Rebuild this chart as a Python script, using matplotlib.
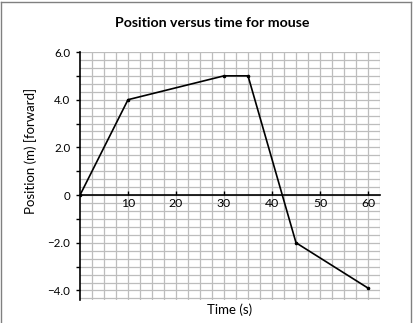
import matplotlib
matplotlib.use("Agg")
import matplotlib.pyplot as plt
from matplotlib.lines import Line2D
import numpy as np

# data
time_s = [0, 10, 30, 35, 45, 60]
position_m = [0, 4.0, 5.0, 5.0, -2.0, -3.9]

ytick_vals = [-4, -3, -2, -1, 0, 1, 2, 3, 4, 5, 6]
ytick_text = ["\u22124.0", "", "\u22122.0", "", "0", "", "2.0", "", "4.0", "", "6.0"]
xtick_vals = [10, 20, 30, 40, 50, 60]

plt.rcParams['font.family'] = ['Lato', 'DejaVu Sans']

fig = plt.figure(figsize=(4.15, 3.23), dpi=100)
# axes spans x 0..62.5 and y -4.4..6 of the picture
ax = fig.add_axes([0.1928, 0.0712, 0.7229, 0.7678])

ax.set_xlim(0, 62.5)
ax.set_ylim(-4.4, 6)

# fine grid: 2.5 s by 1/3 m
for gx in np.arange(2.5, 62.6, 2.5):
    ax.axvline(gx, color='#bdbdbd', lw=0.9, zorder=0)
for gy in np.arange(-13, 19) / 3:
    ax.axhline(gy, color='#bdbdbd', lw=0.9, zorder=0)

ax.plot(time_s, position_m, color='black', lw=1.2, marker='o', ms=1.6, zorder=3)

for s in ['top', 'right']:
    ax.spines[s].set_visible(False)
ax.spines['bottom'].set_position(('data', 0))
ax.spines['bottom'].set_linewidth(1.2)
ax.spines['left'].set_linewidth(1.2)

ax.set_yticks(ytick_vals)
ax.set_yticklabels(ytick_text)
ax.set_xticks(xtick_vals)
ax.set_xticklabels([str(v) for v in xtick_vals])
ax.tick_params(axis='y', direction='out', length=3, width=1, pad=4, labelsize=8.3)
ax.tick_params(axis='x', direction='in', length=3, width=1, pad=2, labelsize=8.8)

ax.set_ylabel("Position (m) [forward]", fontsize=9.5, va='center')
ax.yaxis.set_label_coords(-0.165, 0.6)
ax.set_xlabel("Time (s)", fontsize=9.5, va='center')
ax.xaxis.set_label_coords(0.497, -0.04)

fig.text(0.511, 0.93, "Position versus time for mouse", ha='center', va='center',
         fontsize=10.2, fontweight='bold')

# frame around the picture
for xs, ys in [([0.003, 0.003], [0, 0.994]), ([0.003, 0.991], [0.994, 0.994]),
               ([0.991, 0.991], [0, 0.994])]:
    fig.add_artist(Line2D(xs, ys, color='#808080', lw=1))

fig.savefig("out.png", dpi=100)
